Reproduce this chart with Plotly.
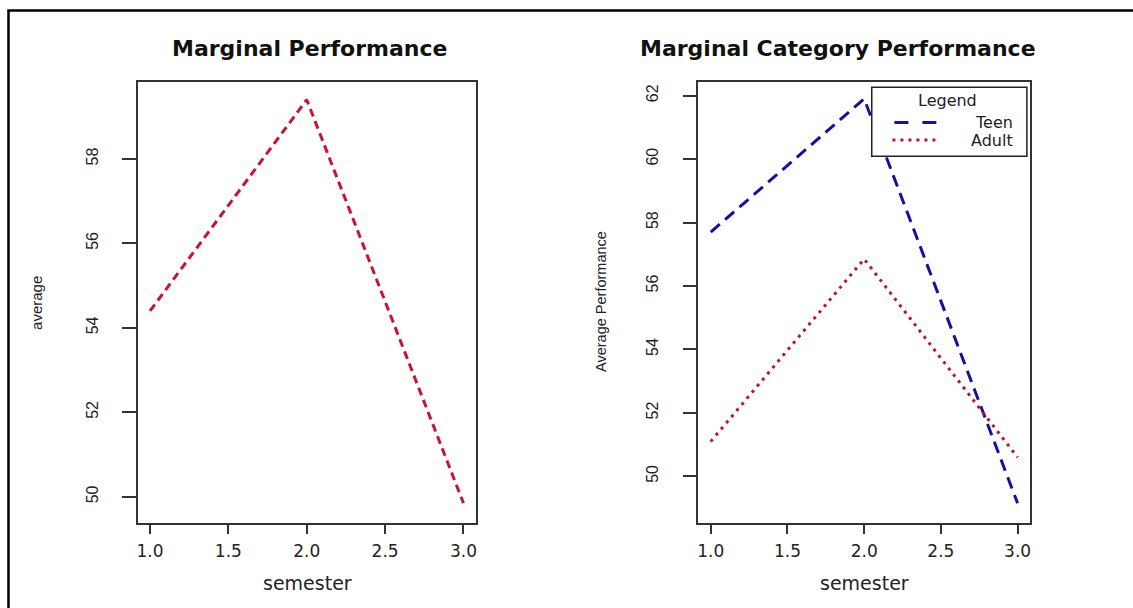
import plotly.graph_objects as go

# ---- data ----
semester = [1, 2, 3]
overall_avg = [54.4, 59.4, 49.85]
teen_avg = [57.7, 61.9, 49.15]
adult_avg = [51.1, 56.85, 50.6]
x_ticks = [1.0, 1.5, 2.0, 2.5, 3.0]
x_ticklabels = ["1.0", "1.5", "2.0", "2.5", "3.0"]
left_yticks = [50, 52, 54, 56, 58]
right_yticks = [50, 52, 54, 56, 58, 60, 62]
series_names = ["Teen", "Adult"]

W, H = 1133, 608
def px(x):
    return x / W
def py(y):
    return 1 - y / H

RED = "#cc1230"
BLUE = "#12129e"
ADULT_RED = "#b8162f"
TEEN_DASH = "12px,7px"
ADULT_DASH = "3px,5px"

fig = go.Figure()

fig.add_trace(go.Scatter(x=semester, y=overall_avg, mode="lines",
                         line=dict(color=RED, width=3, dash="8px,5px"),
                         xaxis="x", yaxis="y", showlegend=False))
fig.add_trace(go.Scatter(x=semester, y=teen_avg, mode="lines", name=series_names[0],
                         line=dict(color=BLUE, width=3, dash=TEEN_DASH),
                         xaxis="x2", yaxis="y2", showlegend=False))
fig.add_trace(go.Scatter(x=semester, y=adult_avg, mode="lines", name=series_names[1],
                         line=dict(color=ADULT_RED, width=3, dash=ADULT_DASH),
                         xaxis="x2", yaxis="y2", showlegend=False))

axis_common = dict(showline=True, linecolor="#333", linewidth=1.5, mirror=True,
                   showgrid=False, zeroline=False, ticks="outside",
                   tickcolor="#333", tickwidth=1.5)
xfont = dict(family="DejaVu Sans", size=17, color="#222")
yfont = dict(family="Liberation Sans", size=16, color="#222")

fig.update_layout(
    width=W, height=H, margin=dict(l=0, r=0, t=0, b=0),
    paper_bgcolor="white", plot_bgcolor="white",
    xaxis=dict(domain=[px(137), px(476)], range=[0.922, 3.081],
               tickvals=x_ticks, ticktext=x_ticklabels, ticklen=9,
               tickfont=xfont, anchor="y", ticklabelstandoff=3, **axis_common),
    yaxis=dict(domain=[py(523), py(82)], range=[49.38, 59.82],
               tickvals=left_yticks, ticklen=14, tickangle=-90,
               tickfont=yfont, anchor="x", ticklabelstandoff=18, **axis_common),
    xaxis2=dict(domain=[px(698.7), px(1030.7)], range=[0.92, 3.08],
                tickvals=x_ticks, ticktext=x_ticklabels, ticklen=9,
                tickfont=xfont, anchor="y2", ticklabelstandoff=3, **axis_common),
    yaxis2=dict(domain=[py(523), py(82)], range=[48.53, 62.43],
                tickvals=right_yticks, ticklen=14, tickangle=-90,
                tickfont=yfont, anchor="x2", ticklabelstandoff=18, **axis_common),
    showlegend=False,
)

title_font = dict(family="DejaVu Sans", size=22, color="#111")
leg_font = dict(family="DejaVu Sans", size=16, color="#222")
ann = [
    dict(text="<b>Marginal Performance</b>", x=px(309), y=py(48),
         xanchor="center", yanchor="middle", font=title_font),
    dict(text="<b>Marginal Category Performance</b>", x=px(638), y=py(48),
         xanchor="left", yanchor="middle", font=title_font),
    dict(text="average", x=px(35.5), y=py(302.5), textangle=-90,
         xanchor="center", yanchor="middle",
         font=dict(family="Liberation Sans", size=15, color="#222")),
    dict(text="Average Performance", x=px(601), y=py(301), textangle=-90,
         xanchor="center", yanchor="middle",
         font=dict(family="Liberation Sans", size=14.5, color="#222")),
    dict(text="semester", x=px(307), y=py(583), xanchor="center", yanchor="middle",
         font=dict(family="DejaVu Sans", size=19, color="#222")),
    dict(text="semester", x=px(865), y=py(583), xanchor="center", yanchor="middle",
         font=dict(family="DejaVu Sans", size=19, color="#222")),
    # legend texts
    dict(text="Legend", x=px(948), y=py(100), xanchor="center", yanchor="middle",
         font=dict(family="DejaVu Sans", size=16, color="#222")),
    dict(text=series_names[0], x=px(1016), y=py(122.5), xanchor="right", yanchor="middle",
         font=leg_font),
    dict(text=series_names[1], x=px(1016), y=py(140), xanchor="right", yanchor="middle",
         font=leg_font),
]
for a in ann:
    a.update(xref="paper", yref="paper", showarrow=False)
fig.update_layout(annotations=ann)

# legend box and key lines
fig.add_shape(type="rect", xref="paper", yref="paper",
              x0=px(872.3), y0=py(156.3), x1=px(1027.7), y1=py(87.3),
              line=dict(color="#222", width=1.5), fillcolor="white", layer="above")
fig.add_shape(type="line", xref="paper", yref="paper",
              x0=px(895), y0=py(122.5), x1=px(937), y1=py(122.5),
              line=dict(color=BLUE, width=3, dash="14px,14px"), layer="above")
fig.add_shape(type="line", xref="paper", yref="paper",
              x0=px(893), y0=py(140), x1=px(937), y1=py(140),
              line=dict(color=ADULT_RED, width=3, dash=ADULT_DASH), layer="above")

# outer frame
fig.add_shape(type="rect", xref="paper", yref="paper",
              x0=px(7.5), y0=py(640), x1=px(1160), y1=py(10.5),
              line=dict(color="black", width=2.5), fillcolor="rgba(0,0,0,0)")

fig.write_html("out.html", config={"displayModeBar": False},
               post_script="document.body.style.margin='0';document.body.style.padding='0';")
